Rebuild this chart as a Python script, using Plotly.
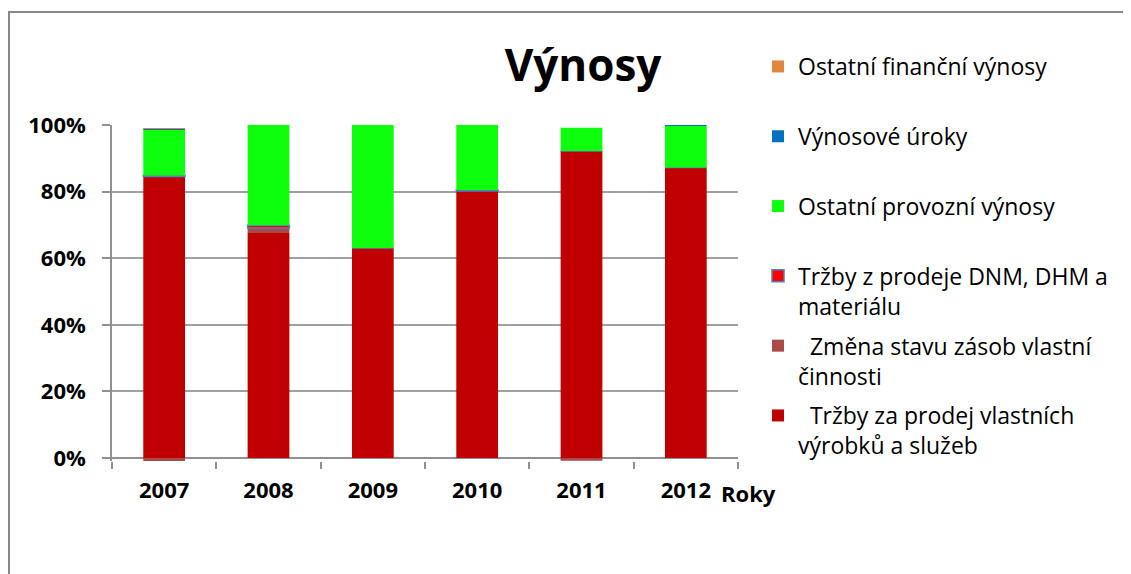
import plotly.graph_objects as go

years = ["2007", "2008", "2009", "2010", "2011", "2012"]

trzby_vlastni = [0.845, 0.676, 0.631, 0.802, 0.922, 0.872]
zmena_zasob = [-0.009, 0.015, 0.0, 0.0, -0.008, 0.0]
trzby_dnm = [0.003, 0.008, 0.0, 0.003, 0.0, 0.0]
ostatni_provozni = [0.139, 0.301, 0.369, 0.195, 0.070, 0.125]
vynosove_uroky = [0.001, 0.0, 0.0, 0.0, 0.0, 0.003]
ostatni_financni = [0.003, 0.0, 0.0, 0.0, 0.0, 0.0]

series = [
    ("\u00a0 Tržby za prodej vlastních<br>výrobků a služeb", trzby_vlastni, "#C00000", None),
    ("\u00a0 Změna stavu zásob vlastní<br>činnosti", zmena_zasob, "#AA4A48", None),
    ("Tržby z prodeje DNM, DHM a<br>materiálu", trzby_dnm, "#FF0000", "#4F81BD"),
    ("Ostatní provozní výnosy<br>\u00a0", ostatni_provozni, "#0DFF0D", None),
    ("Výnosové úroky<br>\u00a0", vynosove_uroky, "#0070C0", None),
    ("Ostatní finanční výnosy<br>\u00a0", ostatni_financni, "#E0863E", None),
]

FONT = "Open Sans"

fig = go.Figure()
n = len(series)
for i, (name, vals, color, outline) in enumerate(series):
    fig.add_trace(go.Bar(
        x=years, y=vals, name=name,
        marker=dict(color=color,
                    line=dict(color=outline if outline else color,
                              width=1.5 if outline else 0)),
        legendgroup=f"g{i}",
        legendrank=n - i,
    ))

# page has an 8px body margin; coordinates below are figure coordinates
L, R, T, B = 104, 730, 117, 453
W, H = 1123, 566
pw, ph = R - L, B - T

fig.update_layout(
    width=W, height=H,
    margin=dict(l=L, r=W - R, t=T, b=H - B, pad=0),
    barmode="relative",
    bargap=0.6,
    plot_bgcolor="white",
    paper_bgcolor="white",
    font=dict(family=FONT, color="black"),
    title=dict(text="<b>Výnosy</b>", font=dict(size=44, family=FONT, color="black"),
               x=575 / W, xanchor="center", y=1 - 58 / H, yanchor="middle"),
    legend=dict(
        x=(750 - L) / pw, xanchor="left",
        y=(B - 37) / ph, yanchor="top",
        traceorder="grouped",
        tracegroupgap=7,
        valign="top",
        itemwidth=30,
        maxheight=2000,
        font=dict(size=23, family=FONT, color="black"),
        bgcolor="rgba(0,0,0,0)",
    ),
    showlegend=True,
)

fig.update_yaxes(
    range=[-0.009, 1.0],
    tickvals=[0, 0.2, 0.4, 0.6, 0.8, 1.0],
    tickformat=".0%",
    showgrid=True, gridcolor="#A0A0A0", gridwidth=1.5,
    zeroline=True, zerolinecolor="#909090", zerolinewidth=2,
    showline=True, linecolor="#909090", linewidth=1.5,
    ticks="outside", ticklen=8, tickcolor="#909090", tickwidth=1.5,
    ticklabelstandoff=12,
    tickfont=dict(size=22, family=FONT, color="black", weight="bold"),
)
fig.update_xaxes(
    type="category",
    showline=False,
    showgrid=False,
    ticks="outside", tickson="boundaries", ticklen=7, tickcolor="#909090", tickwidth=1.5,
    ticklabelstandoff=14,
    tickfont=dict(size=22, family=FONT, color="black", weight="bold"),
)

fig.add_annotation(
    text="<b>Roky</b>", xref="paper", yref="paper",
    x=(740 - L) / pw, y=(B - 485) / ph, xanchor="center", yanchor="middle",
    showarrow=False, font=dict(size=22, family=FONT, color="black"),
)

# chart frame border
fig.add_shape(
    type="rect", xref="paper", yref="paper",
    x0=(1 - L) / pw, x1=(W + 20 - L) / pw,
    y0=(B - 4) / ph, y1=(B - (H + 20)) / ph,
    line=dict(color="#888888", width=2), fillcolor="rgba(0,0,0,0)", layer="below",
)

fig.write_html("out.html")
